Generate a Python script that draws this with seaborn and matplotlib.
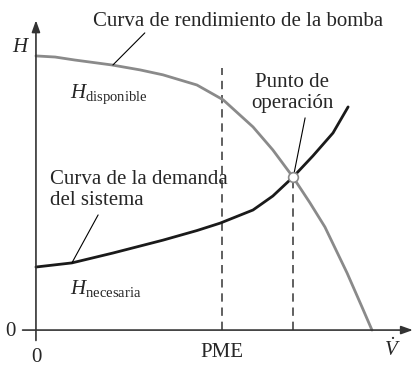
import matplotlib
matplotlib.use("Agg")
import matplotlib.pyplot as plt
import seaborn as sns
import pandas as pd

# curva de la bomba (V, H)
pump_v = [0.0, 0.57, 1.16, 2.26, 3.10, 3.78, 4.79, 5.57, 6.46, 7.05, 7.65,
          8.15, 8.60, 9.26, 9.70, 10.0]
pump_h = [10.0, 9.96, 9.85, 9.67, 9.49, 9.31, 8.94, 8.40, 7.41, 6.57, 5.58,
          4.65, 3.76, 2.08, 0.85, 0.0]

# curva de demanda del sistema (V, H)
dem_v = [0.0, 1.07, 2.29, 3.78, 4.79, 5.48, 6.46, 7.05, 7.65, 8.24, 8.84, 9.29]
dem_h = [2.30, 2.45, 2.81, 3.28, 3.63, 3.90, 4.38, 4.89, 5.58, 6.35, 7.19, 8.14]

pme_v = 5.54
pme_top = 9.56
op_v, op_h = 7.65, 5.58

sns.set_style("white")
plt.rcParams['font.family'] = ['Liberation Serif', 'DejaVu Serif']
plt.rcParams['mathtext.fontset'] = 'custom'
plt.rcParams['mathtext.rm'] = 'Liberation Serif'
plt.rcParams['mathtext.it'] = 'Liberation Serif:italic'

fig = plt.figure(figsize=(4.18, 3.69), dpi=100)
ax = fig.add_axes([0, 0, 1, 1])
ax.set_xlim(-1.07, 11.37)
ax.set_ylim(-1.42, 12.04)
ax.axis('off')

axis_col = '#333333'
fs = 15

# ejes con flechas
ax.annotate('', xy=(11.30, 0), xytext=(-0.48, 0),
            arrowprops=dict(arrowstyle='-|>,head_length=0.7,head_width=0.25', color=axis_col, lw=1.2))
ax.annotate('', xy=(0, 11.40), xytext=(0, -0.48),
            arrowprops=dict(arrowstyle='-|>,head_length=0.7,head_width=0.25', color=axis_col, lw=1.2))

# lineas discontinuas
ax.plot([pme_v, pme_v], [0, pme_top], color='#444444', lw=1.2, dashes=(5, 3.5))
ax.plot([op_v, op_v], [0, op_h], color='#444444', lw=1.2, dashes=(5, 3.5))

pump = pd.DataFrame({'V': pump_v, 'H': pump_h})
dem = pd.DataFrame({'V': dem_v, 'H': dem_h})
sns.lineplot(data=pump, x='V', y='H', sort=False, color='#8a8a8a', lw=2.0, ax=ax)
sns.lineplot(data=dem, x='V', y='H', sort=False, color='#1a1a1a', lw=2.0, ax=ax)

ax.plot([op_v], [op_h], 'o', ms=7, mfc='white', mec='#8a8a8a', mew=1.2, zorder=5)

# lineas guia
lk = dict(color='black', lw=0.8)
ax.plot([3.24, 2.29], [10.84, 9.67], **lk)
ax.plot([8.01, 7.69], [7.74, 5.77], **lk)
ax.plot([1.85, 1.07], [4.20, 2.45], **lk)

# textos
ax.text(1.70, 11.24, 'Curva de rendimiento de la bomba', fontsize=fs, va='center', ha='left')
ax.text(-0.48, 10.29, 'H', fontsize=fs, style='italic', va='center', ha='center')
ax.text(1.01, 8.61, r'$H_{\mathrm{disponible}}$', fontsize=fs, va='center', ha='left')
ax.text(7.62, 8.65, 'Punto de\noperación', fontsize=fs, va='center', ha='center', linespacing=1.1)
ax.text(0.42, 5.11, 'Curva de la demanda\ndel sistema', fontsize=fs, va='center', ha='left', linespacing=1.1)
ax.text(1.01, 1.53, r'$H_{\mathrm{necesaria}}$', fontsize=fs, va='center', ha='left')
ax.text(-0.77, -0.04, '0', fontsize=fs, va='center', ha='center')
ax.text(0, -0.99, '0', fontsize=fs, va='center', ha='center')
ax.text(pme_v, -0.80, 'PME', fontsize=fs, va='center', ha='center')
ax.text(10.6, -0.73, r'$\dot{V}$', fontsize=fs, va='center', ha='center')

fig.savefig('out.png', dpi=100)
